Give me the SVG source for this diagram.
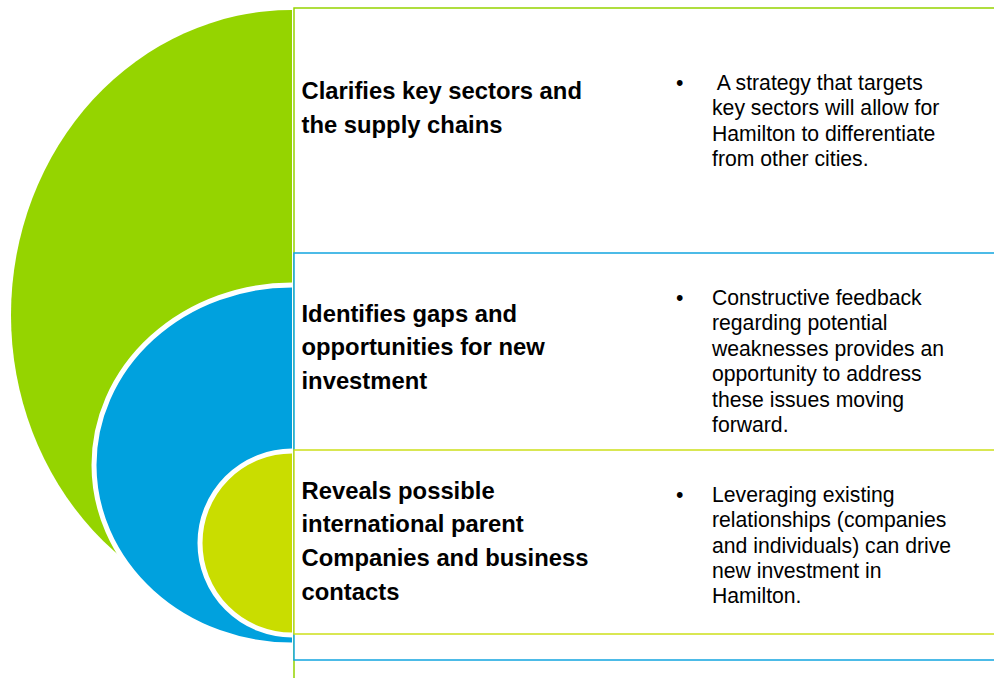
<svg xmlns="http://www.w3.org/2000/svg" width="994" height="678" viewBox="0 0 994 678">
  <style>
    .box { fill: #ffffff; stroke-width: 1.5; }
    .head { font-family: "Liberation Sans", Arial, sans-serif; font-weight: bold; font-size: 23.8px; fill: #000000; }
    .body { font-family: "Liberation Sans", Arial, sans-serif; font-size: 21.2px; fill: #000000; white-space: pre; }
    .ring { stroke: #ffffff; stroke-width: 5; }
  </style>
  <defs>
    <clipPath id="leftclip">
      <rect x="0" y="0" width="292" height="678"/>
    </clipPath>
  </defs>
  <rect x="0" y="0" width="994" height="678" fill="#ffffff"/>

  <g id="row-1">
    <rect class="box" x="294" y="8" width="720" height="700" stroke="#95D400"/>
    <text class="head" x="301.5" y="99">Clarifies key sectors and</text>
    <text class="head" x="301.5" y="133">the supply chains</text>
    <text class="body" x="676" y="90">•</text>
    <text class="body" x="712" y="90"> A strategy that targets</text>
    <text class="body" x="712" y="115.4">key sectors will allow for</text>
    <text class="body" x="712" y="140.8">Hamilton to differentiate</text>
    <text class="body" x="712" y="166.2">from other cities.</text>
  </g>

  <g id="row-2">
    <rect class="box" x="294" y="253" width="720" height="407" stroke="#12A5E0"/>
    <text class="head" x="301.5" y="321.5">Identifies gaps and</text>
    <text class="head" x="301.5" y="355">opportunities for new</text>
    <text class="head" x="301.5" y="388.5">investment</text>
    <text class="body" x="676" y="305">•</text>
    <text class="body" x="712" y="305">Constructive feedback</text>
    <text class="body" x="712" y="330.4">regarding potential</text>
    <text class="body" x="712" y="355.8">weaknesses provides an</text>
    <text class="body" x="712" y="381.2">opportunity to address</text>
    <text class="body" x="712" y="406.6">these issues moving</text>
    <text class="body" x="712" y="432">forward.</text>
  </g>

  <g id="row-3">
    <rect class="box" x="294" y="450" width="720" height="184" stroke="#CDDF1A"/>
    <text class="head" x="301.5" y="498.5">Reveals possible</text>
    <text class="head" x="301.5" y="532.3">international parent</text>
    <text class="head" x="301.5" y="566.1">Companies and business</text>
    <text class="head" x="301.5" y="599.9">contacts</text>
    <text class="body" x="676" y="501.7">•</text>
    <text class="body" x="712" y="501.7">Leveraging existing</text>
    <text class="body" x="712" y="527.1">relationships (companies</text>
    <text class="body" x="712" y="552.5">and individuals) can drive</text>
    <text class="body" x="712" y="577.9">new investment in</text>
    <text class="body" x="712" y="603.3">Hamilton.</text>
  </g>

  <g id="shapes" clip-path="url(#leftclip)">
    <g id="shape-green">
      <path d="M292,10 A281,305 0 0 0 292,620 Z" fill="#95D400"/>
    </g>
    <g id="shape-blue">
      <ellipse class="ring" cx="292" cy="465" rx="198" ry="180" fill="#00A1DE"/>
    </g>
    <g id="shape-yellow">
      <circle class="ring" cx="292" cy="543" r="92" fill="#C9DD00"/>
    </g>
  </g>

  <g id="connectors"/>
</svg>
